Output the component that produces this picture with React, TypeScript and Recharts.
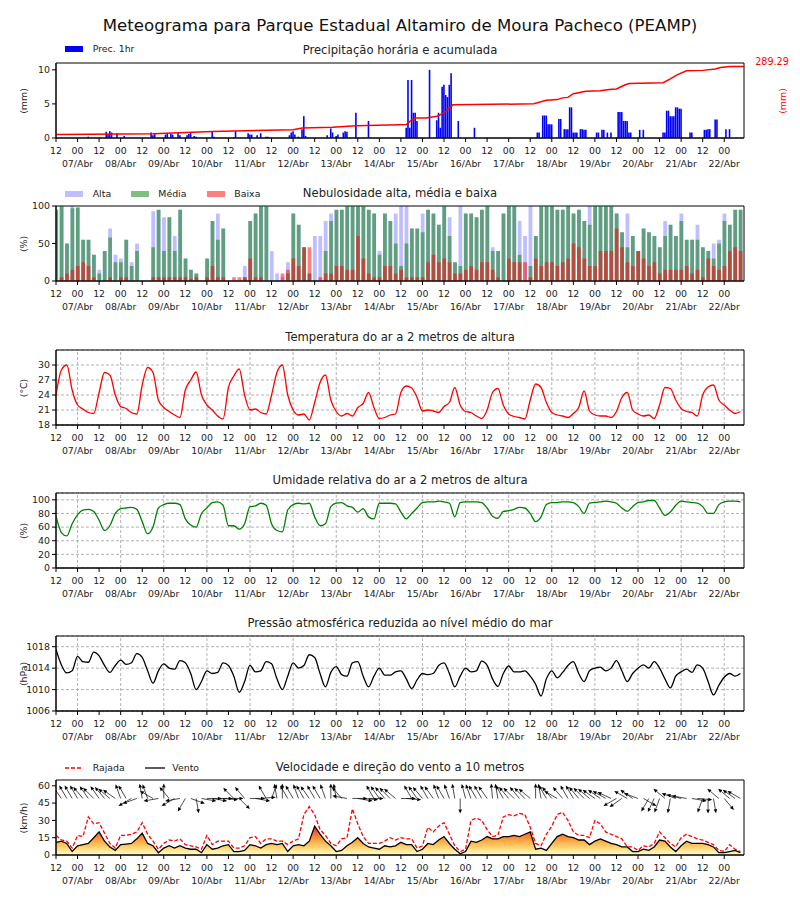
import React from 'react'
import {
  ComposedChart, Bar, Line, Area, Scatter, XAxis, YAxis, CartesianGrid, ReferenceLine, ReferenceArea,
} from 'recharts'

const FONT = '"DejaVu Sans", Verdana, sans-serif'
const TXT = '#222'

// x = hours since 06/Abr 00h; 3-hourly steps from 06/Abr 12h to 22/Abr 09h
const hours3 = Array.from({ length: 128 }, (_, i) => 12 + 3 * i)

const xTicks = [12, 24, 36, 48, 60, 72, 84, 96, 108, 120, 132, 144, 156, 168, 180, 192, 204, 216, 228, 240, 252, 264, 276, 288, 300, 312, 324, 336, 348, 360, 372, 384]
const dayTicks = [24, 48, 72, 96, 120, 144, 168, 192, 216, 240, 264, 288, 312, 336, 360, 384]
const dayLabels = ['07/Abr', '08/Abr', '09/Abr', '10/Abr', '11/Abr', '12/Abr', '13/Abr', '14/Abr', '15/Abr', '16/Abr', '17/Abr', '18/Abr', '19/Abr', '20/Abr', '21/Abr', '22/Abr']

// hourly precipitation (mm), only hours with rain
const precipT = [
  30, 40, 41, 42, 43, 46, 50,
  65, 66, 67, 73, 74, 76, 77, 80, 81,
  85, 86, 87, 89, 90, 99, 100,
  111, 112, 119, 120, 121, 124, 126, 129, 130,
  142, 143, 144, 145, 147, 149, 150, 151,
  163, 165, 166, 168, 169, 172, 173, 174, 179, 186,
  207, 208, 209, 210, 211, 212, 213,
  220,
  224, 225, 226, 227, 228, 229, 230, 231, 232,
  236, 245,
  280, 281, 283, 284, 285, 286, 287, 288,
  292, 293, 295, 296, 297, 298, 299, 300, 301, 302,
  304, 305, 306, 307,
  313, 314, 316, 317, 319, 321,
  325, 326, 327, 328, 329, 330, 331, 332,
  337, 339,
  350, 351, 352, 353, 354, 355, 356, 357, 358, 359, 360,
  365, 366,
  373, 374, 375, 376, 379, 380, 385, 387,
]
const precipV = [
  0.2, 0.9, 0.6, 1.0, 0.8, 0.7, 0.3,
  0.8, 0.4, 0.6, 0.5, 0.6, 0.6, 0.5, 0.7, 0.4,
  0.4, 0.6, 0.8, 0.3, 0.2, 1.0, 0.2,
  0.1, 1.0, 0.7, 0.5, 0.5, 0.4, 0.7, 0.2, 0.2,
  0.4, 0.8, 1.0, 0.5, 0.2, 1.3, 3.2, 0.3,
  0.4, 1.4, 0.8, 0.3, 0.5, 0.8, 1.0, 0.9, 3.7, 2.5,
  1.5, 8.5, 1.5, 8.5, 3.7, 3.7, 2.5,
  10.0,
  2.6, 3.7, 1.5, 7.5, 7.8, 6.3, 6.0, 7.8, 9.5,
  2.5, 1.5,
  0.8, 0.8, 3.3, 3.3, 3.3, 2.0, 2.0, 2.0,
  2.8, 2.8, 1.3, 1.3, 1.3, 4.5, 4.5, 0.8, 0.8, 0.8,
  1.3, 1.3, 1.2, 1.2,
  0.8, 0.8, 1.2, 1.2, 0.8, 0.8,
  3.8, 3.8, 3.8, 2.5, 2.5, 2.5, 0.8, 0.8,
  1.2, 1.2,
  0.8, 0.8, 4.0, 4.0, 3.2, 3.2, 3.2, 4.5, 4.5, 4.3, 4.3,
  0.8, 0.8,
  1.2, 1.2, 1.3, 1.3, 2.7, 2.7, 1.3, 1.3,
]

// accumulated precipitation (mm), read at the bends of the red line
const accT = [12, 66, 99, 144, 149, 166, 179, 203, 207, 209, 212, 218, 224, 228, 231, 233, 278, 285, 291, 294, 297, 300, 307, 315, 320, 324, 328, 331, 350, 354, 358, 363, 372, 379, 382, 387, 395]
const accV = [0, 3.8, 13.6, 20.7, 28, 30.7, 37.7, 42, 42.3, 55.9, 70.7, 70.7, 78, 91.7, 113.8, 126.4, 130.6, 145.3, 148.5, 155.8, 157.9, 173.7, 184.2, 186.3, 191.6, 193.7, 208.4, 216.8, 220, 236.8, 254.6, 270.4, 272.5, 278.8, 285.1, 289.0, 289.29]
const accTotal = '289.29'

// cloud cover (%), 3-hourly
const cloudHigh = [
  95, 100, 50, 100,
  98, 55, 55, 35, 15, 40, 70, 35,
  30, 55, 25, 50, 0, 0, 93, 95,
  85, 85, 60, 95, 30, 15, 10, 0,
  30, 80, 90, 70, 0, 0, 0, 20,
  80, 90, 100, 100, 40, 10, 5, 25,
  90, 75, 45, 10, 60, 60, 80, 90,
  95, 95, 100, 100, 100, 100, 95, 90,
  40, 90, 80, 90, 100, 100, 70, 70,
  90, 95, 90, 75, 100, 85, 25, 100,
  90, 90, 85, 95, 100, 45, 40, 90,
  100, 100, 80, 60, 100, 60, 100, 100,
  100, 95, 95, 100, 90, 95, 80, 100,
  100, 100, 100, 100, 90, 65, 90, 60,
  40, 70, 65, 60, 45, 80, 75, 60,
  90, 55, 55, 75, 45, 40, 50, 55,
  90, 75, 95, 95,
]
const cloudMid = [
  95, 100, 50, 97,
  98, 55, 55, 35, 10, 40, 58, 25,
  25, 55, 20, 40, 0, 0, 45, 95,
  40, 85, 40, 95, 30, 15, 10, 0,
  30, 80, 55, 70, 0, 0, 0, 5,
  80, 90, 100, 100, 0, 0, 0, 10,
  90, 75, 45, 10, 0, 0, 40, 80,
  95, 95, 100, 100, 100, 100, 95, 90,
  35, 90, 80, 50, 20, 50, 70, 70,
  65, 95, 90, 75, 100, 60, 25, 20,
  90, 90, 85, 95, 100, 40, 40, 90,
  100, 100, 35, 0, 20, 60, 100, 100,
  100, 95, 95, 100, 90, 95, 80, 75,
  100, 100, 100, 100, 90, 65, 45, 60,
  40, 70, 65, 60, 45, 60, 75, 60,
  80, 55, 55, 55, 45, 40, 30, 50,
  80, 75, 95, 95,
]
const cloudLow = [
  0, 5, 10, 15,
  20, 25, 20, 5, 0, 0, 5, 0,
  5, 5, 0, 0, 0, 0, 5, 5,
  5, 5, 5, 5, 5, 3, 5, 0,
  5, 20, 5, 5, 0, 5, 5, 5,
  30, 5, 5, 0, 0, 0, 10, 15,
  30, 20, 45, 45, 0, 5, 10, 10,
  20, 20, 15, 15, 60, 30, 10, 5,
  5, 20, 20, 10, 15, 5, 5, 5,
  5, 25, 35, 25, 30, 25, 10, 10,
  15, 20, 15, 25, 25, 15, 5, 0,
  30, 25, 25, 25, 5, 30, 20, 25,
  25, 20, 25, 30, 50, 45, 30, 20,
  20, 40, 40, 40, 70, 45, 25, 20,
  40, 30, 20, 25, 10, 15, 15, 15,
  15, 20, 10, 15, 5, 30, 20, 15,
  20, 40, 45, 40,
]

// air temperature (°C)
const temp = [
  24, 29, 30, 25,
  22, 21.2, 20.5, 20.3, 24.5, 28.5, 28, 24,
  21.7, 21.3, 20.5, 20.2, 26, 29.5, 28.5, 23,
  21.5, 20.7, 20, 19.5, 25, 27, 28.6, 24,
  22, 21, 19.8, 19.2, 25.5, 27.8, 29.2, 24,
  21, 21.2, 20.5, 20.2, 24, 28.5, 30, 24,
  21, 20, 20.2, 19, 22.5, 26.5, 28, 23,
  20.7, 19.8, 20.3, 19.8, 21.5, 22.3, 24.5, 21.5,
  19.3, 19.5, 20, 20.2, 24.5, 25.8, 25.4, 23.5,
  20.8, 21, 20.8, 20.5, 21.7, 22.5, 25.5, 22,
  20.7, 20.5, 19.8, 19.3, 21, 24.5, 25.3, 22,
  20.2, 19.7, 19.5, 19.2, 23, 26.2, 25.5, 22.5,
  20.5, 20, 19.8, 19.5, 20.3, 21.5, 24.8, 20.8,
  20, 19.8, 19.8, 19.5, 20.7, 23.5, 24.5, 21,
  20.2, 19.8, 20, 19.3, 22, 25.5, 25.3, 23,
  21.3, 20.7, 20.5, 19.8, 24, 25.6, 26, 23,
  22, 21, 20.3, 20.7,
]

// relative humidity (%)
const humidity = [
  76, 52, 47, 65,
  78, 85, 86, 83, 70, 55, 62, 80,
  87, 88, 89, 86, 68, 50, 60, 88,
  93, 95, 95, 93, 72, 63, 60, 80,
  88, 96, 97, 92, 62, 62, 57, 65,
  90, 91, 95, 92, 65, 55, 53, 85,
  93, 95, 94, 95, 75, 62, 65, 90,
  95, 96, 91, 89, 82, 87, 75, 72,
  95, 95, 95, 94, 82, 72, 80, 88,
  96, 97, 97, 98, 97, 95, 75, 96,
  97, 97, 97, 96, 88, 76, 73, 83,
  84, 86, 89, 88, 80, 68, 75, 93,
  96, 96, 97, 97, 96, 90, 80, 95,
  96, 97, 98, 97, 95, 88, 83, 90,
  96, 97, 99, 99, 88, 77, 82, 92,
  98, 97, 96, 95, 90, 80, 80, 93,
  97, 98, 98, 97,
]

// sea-level pressure (hPa)
const pressure = [
  1017.5, 1014.6, 1013.1, 1013.5,
  1016.2, 1015.2, 1015.1, 1017, 1016.3, 1014.5, 1013.2, 1014.5,
  1015.5, 1014.7, 1015, 1016.7, 1016, 1013.5, 1011.2, 1013.5,
  1014.8, 1014, 1013.8, 1015.4, 1015, 1013, 1010, 1011.5,
  1013.5, 1013, 1013.2, 1015, 1014.5, 1012.5, 1009.5, 1011.5,
  1014.5, 1013.3, 1013.5, 1015.2, 1014.8, 1012, 1010, 1012.5,
  1015, 1014, 1014.5, 1016.5, 1016, 1013, 1010.5, 1013.2,
  1014.3, 1012.8, 1012.5, 1015, 1015.2, 1012.5, 1010.5, 1012.5,
  1014, 1012.7, 1012.7, 1013.3, 1013.5, 1012, 1010.2, 1011.8,
  1013, 1012.8, 1013, 1014.5, 1015, 1013, 1010.5, 1012.5,
  1014, 1013.3, 1013.5, 1015.3, 1014.5, 1012, 1010.6, 1013,
  1014.4, 1013.3, 1013.3, 1013.5, 1012.5, 1011, 1008.8, 1012,
  1013.5, 1012.2, 1013.2, 1014.5, 1015.2, 1013, 1011.5, 1013.5,
  1014, 1014.2, 1013.5, 1014, 1015.4, 1013.5, 1011.5, 1013,
  1014, 1014.6, 1014, 1015.2, 1014, 1012, 1010.3, 1012.5,
  1013.3, 1013.8, 1013.2, 1014.6, 1014, 1011.5, 1009, 1010.8,
  1012.3, 1013, 1012.5, 1013,
]

// wind speed and gust at 10 m (km/h)
const wind = [
  11, 12, 10, 3,
  8, 9, 10, 15, 20, 12, 7, 4,
  9, 9.5, 10, 14, 19, 10, 8, 2,
  6, 8, 6, 8, 6, 5, 5, 2,
  9, 5, 6, 8, 9, 3, 3, 4,
  9, 8, 6, 9, 10, 9, 10, 3,
  8, 9, 8, 12, 25, 18, 12, 8,
  3, 4, 8, 11, 15, 10, 7, 6,
  5, 8, 7, 8, 11, 9, 9, 3,
  5, 10, 9, 13, 16, 10, 5, 1,
  3, 12, 11, 13, 16, 14, 14, 16,
  16, 17, 16, 18, 20, 5, 6, 4,
  10, 16, 18, 16, 15, 13, 13, 9,
  12, 14, 12, 10, 9, 7, 7, 3,
  3, 5, 4, 7, 13, 12, 7, 3,
  8, 12, 10, 10, 10, 9, 7, 2,
  2, 3, 4, 2,
]
const gust = [
  17, 13, 12, 6,
  17, 16, 33, 27, 28, 19, 10, 6,
  17, 17, 18, 20, 28, 18, 12, 5,
  10, 13, 12, 14, 9, 8, 7, 5,
  17, 9, 12, 12, 12, 6, 6, 8,
  15, 16, 10, 14, 14, 12, 12, 9,
  12, 14, 35, 42, 35, 22, 17, 10,
  8, 14, 15, 40, 27, 16, 10, 10,
  10, 12, 15, 13, 15, 14, 14, 6,
  8, 24, 20, 25, 28, 18, 8, 3,
  5, 30, 32, 30, 22, 16, 17, 33,
  35, 34, 36, 35, 24, 10, 8, 18,
  25, 35, 37, 30, 20, 17, 17, 15,
  30, 27, 20, 18, 16, 14, 7, 7,
  4, 8, 7, 10, 20, 15, 10, 7,
  15, 18, 16, 14, 13, 11, 9, 4,
  3, 9, 5, 3,
]
// wind direction (degrees, where the wind blows from)
const windDir = [
  140, 145, 150, 150,
  150, 140, 145, 135, 145, 140, 130, 125,
  160, 150, 60, 70, 170, 160, 120, 80,
  180, 140, 60, 80, 30, 290, 350, 280,
  270, 280, 270, 275, 270, 135, 315, 140,
  270, 280, 265, 150, 200, 170, 180, 150,
  150, 160, 150, 145, 150, 150, 160, 180,
  170, 140, 100, 270, 280, 275, 270, 150,
  145, 140, 135, 130, 270, 275, 150, 145,
  140, 150, 145, 160, 150, 160, 170, 0,
  165, 160, 150, 150, 145, 175, 170, 150,
  140, 135, 140, 135, 130, 180, 170, 150,
  140, 120, 140, 150, 150, 140, 135, 130,
  125, 125, 120, 115, 60, 55, 120, 125,
  110, 300, 30, 25, 20, 130, 10, 110,
  105, 100, 280, 275, 20, 0, 350, 130,
  320, 130, 125, 120,
]

const ARROW_LEVEL = 49

const table3 = hours3.map((t, i) => ({
  t,
  alta: cloudHigh[i], media: cloudMid[i], baixa: cloudLow[i],
  temp: temp[i], hum: humidity[i], pres: pressure[i],
  wind: wind[i], gust: gust[i], dir: windDir[i], arrow: ARROW_LEVEL,
}))
const precipData = precipT.map((t, i) => ({ t, p: precipV[i] }))
const accData = accT.map((t, i) => ({ t, acc: accV[i] }))

const X0 = 12
const X1 = 395
const MARGIN = { top: 20, right: 56, bottom: 8, left: 16 }

const TimeTick = (props: any) => {
  const { x, y, payload } = props
  const v = payload.value as number
  const midnight = v % 24 === 0
  return (
    <g>
      <text x={x} y={y + 10} textAnchor="middle" fontSize={9.4} fill={TXT}>{midnight ? '00' : '12'}</text>
      {midnight && (
        <text x={x} y={y + 23} textAnchor="middle" fontSize={9.4} fill={TXT}>{dayLabels[v / 24 - 1]}</text>
      )}
    </g>
  )
}

const timeAxis = (id: string | number = 0, hide = false) => (
  <XAxis
    key={`x-${id}`}
    xAxisId={id}
    type="number"
    dataKey="t"
    domain={[X0, X1]}
    ticks={xTicks}
    interval={0}
    tick={<TimeTick />}
    tickSize={4}
    height={40}
    axisLine={{ stroke: '#000' }}
    tickLine={{ stroke: '#000' }}
    allowDataOverflow
    hide={hide}
  />
)

const yTick = { fontSize: 9.4, fill: TXT }

const dayLines = (id: string | number = 0, yId: string | number = 0) =>
  dayTicks.map(d => (
    <ReferenceLine key={`d${d}`} x={d} xAxisId={id} yAxisId={yId} stroke="#a0a0a0" strokeDasharray="3 2" strokeWidth={0.8} />
  ))

const frame = (lo: number, hi: number, id: string | number = 0, yId: string | number = 0) => (
  <ReferenceArea x1={X0} x2={X1} y1={lo} y2={hi} xAxisId={id} yAxisId={yId} fill="none" fillOpacity={0} stroke="#000" strokeWidth={1} ifOverflow="visible" />
)

// wind arrow drawn from the anchor point towards where the wind blows
const ArrowShape = (props: any) => {
  const { cx, cy, payload } = props
  if (cx == null || cy == null) return <g />
  const a = ((payload.dir + 180) * Math.PI) / 180
  const L = 15
  const ux = Math.sin(a)
  const uy = -Math.cos(a)
  const x2 = cx + ux * L
  const y2 = cy + uy * L
  const bx = x2 - ux * 4
  const by = y2 - uy * 4
  const hw = 1.8
  return (
    <g>
      <line x1={cx} y1={cy} x2={bx} y2={by} stroke="#000" strokeWidth={0.7} />
      <polygon points={`${x2},${y2} ${bx - uy * hw},${by + ux * hw} ${bx + uy * hw},${by - ux * hw}`} fill="#000" />
    </g>
  )
}

const Panel = ({ plotTop, title, yLabel, children, extra }: any) => (
  <div style={{ position: 'absolute', left: 0, top: plotTop - 20, width: 800, height: 143 }}>
    {children}
    <div style={{ position: 'absolute', left: 0, width: 800, top: 8, transform: 'translateY(-50%)', textAlign: 'center', fontSize: 11.6, lineHeight: 1, color: TXT }}>
      {title}
    </div>
    <div style={{ position: 'absolute', left: 24, top: 57.5, transform: 'translate(-50%,-50%) rotate(-90deg)', fontSize: 9.4, lineHeight: 1, whiteSpace: 'nowrap', color: TXT }}>
      {yLabel}
    </div>
    {extra}
  </div>
)

const Swatch = ({ left, top, color, label, textLeft }: any) => (
  <>
    <div style={{ position: 'absolute', left, top: top - 3, width: 18, height: 6, background: color }} />
    <div style={{ position: 'absolute', left: textLeft, top, transform: 'translateY(-50%)', fontSize: 9.4, lineHeight: 1, color: TXT }}>{label}</div>
  </>
)

export default function App() {
  return (
    <div style={{ position: 'absolute', left: 0, top: 0, width: 800, height: 900, background: '#fff', fontFamily: FONT }}>
      <div style={{ position: 'absolute', left: 0, width: 800, top: 26, transform: 'translateY(-50%)', textAlign: 'center', fontSize: 16.6, lineHeight: 1, color: '#111' }}>
        Meteograma para Parque Estadual Altamiro de Moura Pacheco (PEAMP)
      </div>

      {/* precipitation */}
      <Panel
        plotTop={63}
        title="Precipitação horária e acumulada"
        yLabel="(mm)"
        extra={
          <>
            <Swatch left={65} top={6} color="#0000ff" label="Prec. 1hr" textLeft={92.7} />
            <div style={{ position: 'absolute', left: 772, top: 19, transform: 'translate(-50%,-50%)', fontSize: 9.6, lineHeight: 1, color: '#ff0000' }}>{accTotal}</div>
            <div style={{ position: 'absolute', left: 783, top: 57.5, transform: 'translate(-50%,-50%) rotate(-90deg)', fontSize: 9.4, lineHeight: 1, color: '#ff0000' }}>(mm)</div>
          </>
        }
      >
        <ComposedChart width={800} height={143} data={precipData} margin={MARGIN}>
          {timeAxis()}
          <YAxis yAxisId="l" type="number" domain={[0, 11]} ticks={[0, 5, 10]} interval={0} tick={yTick} tickSize={4} width={40} axisLine={{ stroke: '#000' }} tickLine={{ stroke: '#000' }} allowDataOverflow />
          <YAxis yAxisId="r" orientation="right" type="number" domain={[-14.5, 303.8]} hide allowDataOverflow />
          <Bar yAxisId="l" dataKey="p" fill="#0000ff" barSize={1.6} isAnimationActive={false} />
          <Line yAxisId="r" data={accData} dataKey="acc" type="linear" stroke="#ff0000" strokeWidth={1.5} dot={false} isAnimationActive={false} />
          {frame(0, 11, 0, 'l')}
        </ComposedChart>
      </Panel>

      {/* cloud cover */}
      <Panel
        plotTop={206}
        title="Nebulosidade alta, média e baixa"
        yLabel="(%)"
        extra={
          <>
            <Swatch left={65} top={7.7} color="#bfbfff" label="Alta" textLeft={92.7} />
            <Swatch left={130.7} top={7.7} color="#7fbf7f" label="Média" textLeft={158.3} />
            <Swatch left={207.3} top={7.7} color="#ff7f7f" label="Baixa" textLeft={234.3} />
          </>
        }
      >
        <ComposedChart width={800} height={143} data={table3} margin={MARGIN}>
          {timeAxis('a')}
          {timeAxis('b', true)}
          {timeAxis('c', true)}
          <YAxis type="number" domain={[0, 100]} ticks={[0, 50, 100]} interval={0} tick={yTick} tickSize={4} width={40} axisLine={{ stroke: '#000' }} tickLine={{ stroke: '#000' }} />
          <Bar xAxisId="a" dataKey="alta" fill="#0000ff" fillOpacity={0.25} barSize={3.8} isAnimationActive={false} />
          <Bar xAxisId="b" dataKey="media" fill="#008000" fillOpacity={0.5} barSize={3.8} isAnimationActive={false} />
          <Bar xAxisId="c" dataKey="baixa" fill="#ff0000" fillOpacity={0.5} barSize={3.8} isAnimationActive={false} />
          {frame(0, 100, 'a')}
        </ComposedChart>
      </Panel>

      {/* temperature */}
      <Panel plotTop={350} title="Temperatura do ar a 2 metros de altura" yLabel="(°C)">
        <ComposedChart width={800} height={143} data={table3} margin={MARGIN}>
          {timeAxis()}
          <YAxis type="number" domain={[18, 33]} ticks={[18, 21, 24, 27, 30]} interval={0} tick={yTick} tickSize={4} width={40} axisLine={{ stroke: '#000' }} tickLine={{ stroke: '#000' }} allowDataOverflow />
          <CartesianGrid vertical={false} stroke="#a0a0a0" strokeDasharray="3 2" strokeWidth={0.8} />
          {dayLines()}
          <Line dataKey="temp" type="monotone" stroke="#ff0000" strokeWidth={1.3} dot={false} isAnimationActive={false} />
          {frame(18, 33)}
        </ComposedChart>
      </Panel>

      {/* humidity */}
      <Panel plotTop={493} title="Umidade relativa do ar a 2 metros de altura" yLabel="(%)">
        <ComposedChart width={800} height={143} data={table3} margin={MARGIN}>
          {timeAxis()}
          <YAxis type="number" domain={[0, 110]} ticks={[0, 20, 40, 60, 80, 100]} interval={0} tick={yTick} tickSize={4} width={40} axisLine={{ stroke: '#000' }} tickLine={{ stroke: '#000' }} allowDataOverflow />
          <CartesianGrid vertical={false} stroke="#a0a0a0" strokeDasharray="3 2" strokeWidth={0.8} />
          {dayLines()}
          <Line dataKey="hum" type="monotone" stroke="#008000" strokeWidth={1.3} dot={false} isAnimationActive={false} />
          {frame(0, 110)}
        </ComposedChart>
      </Panel>

      {/* pressure */}
      <Panel plotTop={636} title="Pressão atmosférica reduzida ao nível médio do mar" yLabel="(hPa)">
        <ComposedChart width={800} height={143} data={table3} margin={MARGIN}>
          {timeAxis()}
          <YAxis type="number" domain={[1006, 1020]} ticks={[1006, 1010, 1014, 1018]} interval={0} tick={yTick} tickSize={4} width={40} axisLine={{ stroke: '#000' }} tickLine={{ stroke: '#000' }} allowDataOverflow />
          <CartesianGrid vertical={false} stroke="#a0a0a0" strokeDasharray="3 2" strokeWidth={0.8} />
          {dayLines()}
          <Line dataKey="pres" type="monotone" stroke="#000" strokeWidth={1.3} dot={false} isAnimationActive={false} />
          {frame(1006, 1020)}
        </ComposedChart>
      </Panel>

      {/* wind */}
      <Panel
        plotTop={780}
        title="Velocidade e direção do vento a 10 metros"
        yLabel="(km/h)"
        extra={
          <>
            <svg style={{ position: 'absolute', left: 65, top: 6.7 }} width={100} height={2}>
              <line x1={0} y1={1} x2={18} y2={1} stroke="#ff0000" strokeWidth={1.3} strokeDasharray="4 2" />
              <line x1={80} y1={1} x2={101} y2={1} stroke="#000" strokeWidth={1.3} />
            </svg>
            <div style={{ position: 'absolute', left: 92.7, top: 7.7, transform: 'translateY(-50%)', fontSize: 9.4, lineHeight: 1, color: TXT }}>Rajada</div>
            <div style={{ position: 'absolute', left: 172.3, top: 7.7, transform: 'translateY(-50%)', fontSize: 9.4, lineHeight: 1, color: TXT }}>Vento</div>
          </>
        }
      >
        <ComposedChart width={800} height={143} data={table3} margin={MARGIN}>
          <defs>
            <linearGradient id="windFill" x1="0" y1="0" x2="0" y2="1">
              <stop offset="0%" stopColor="#e0201b" />
              <stop offset="25%" stopColor="#f46d2e" />
              <stop offset="50%" stopColor="#fca743" />
              <stop offset="75%" stopColor="#fed676" />
              <stop offset="100%" stopColor="#ffffd0" />
            </linearGradient>
          </defs>
          {timeAxis()}
          <YAxis type="number" domain={[0, 65]} ticks={[0, 15, 30, 45, 60]} interval={0} tick={yTick} tickSize={4} width={40} axisLine={{ stroke: '#000' }} tickLine={{ stroke: '#000' }} allowDataOverflow />
          <Area dataKey="wind" type="linear" fill="url(#windFill)" fillOpacity={1} stroke="#000" strokeWidth={1.3} isAnimationActive={false} />
          <Line dataKey="gust" type="linear" stroke="#ff0000" strokeWidth={1.3} strokeDasharray="4 2" dot={false} isAnimationActive={false} />
          <Scatter dataKey="arrow" shape={<ArrowShape />} isAnimationActive={false} />
          {frame(0, 65)}
        </ComposedChart>
      </Panel>
    </div>
  )
}
